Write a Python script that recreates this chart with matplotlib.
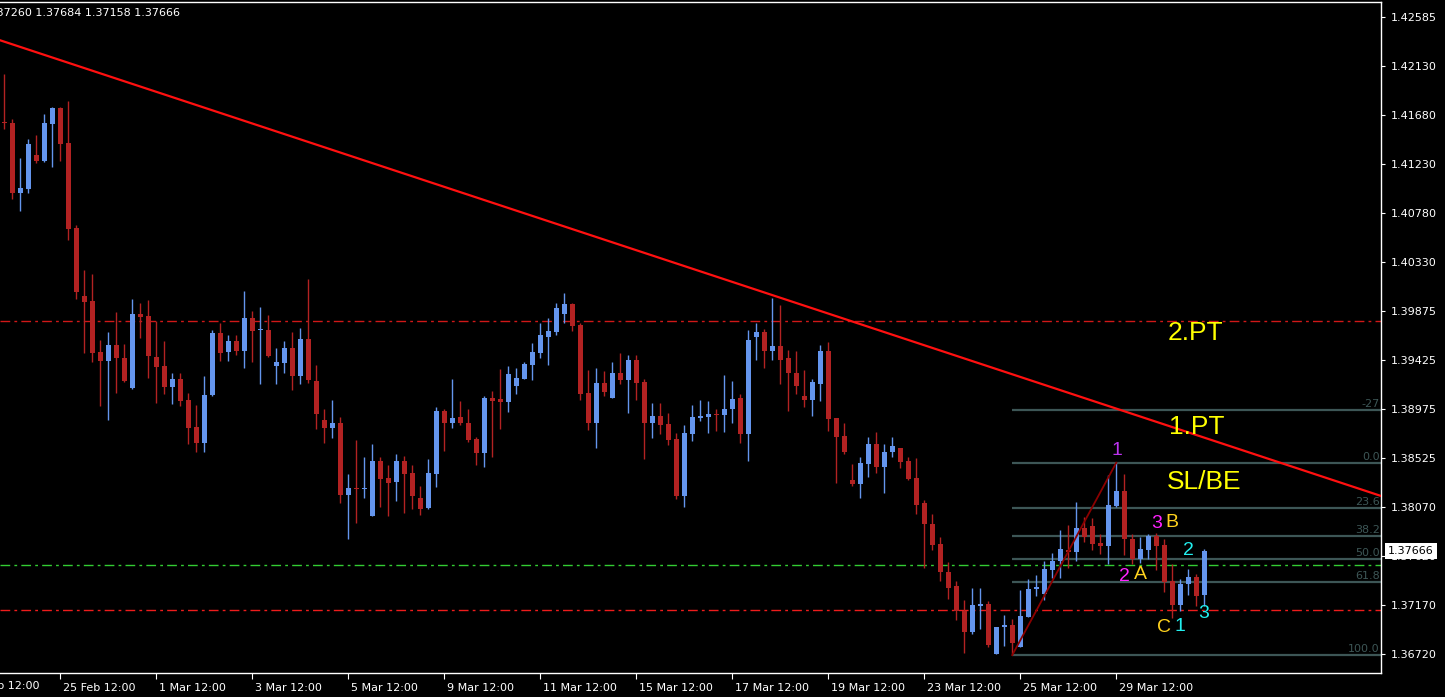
import matplotlib
matplotlib.use('Agg')
import matplotlib.pyplot as plt
import matplotlib.transforms as mtransforms

# H4 candles, index 0 = first visible bar
opens = [1.4162, 1.4161, 1.4096, 1.4100, 1.4131, 1.4126, 1.4160, 1.4174, 1.4142, 1.4064,
         1.4001, 1.3997, 1.3950, 1.3942, 1.3956, 1.3944, 1.3917, 1.3985, 1.3983, 1.3945,
         1.3937, 1.3918, 1.3925, 1.3906, 1.3881, 1.3866, 1.3910, 1.3967, 1.3950, 1.3960,
         1.3951, 1.3981, 1.3970, 1.3970, 1.3937, 1.3940, 1.3954, 1.3928, 1.3962, 1.3923,
         1.3887, 1.3880, 1.3885, 1.3818, 1.3825, 1.3824, 1.3799, 1.3850, 1.3834, 1.3830,
         1.3850, 1.3839, 1.3816, 1.3806, 1.3838, 1.3896, 1.3885, 1.3890, 1.3885, 1.3870,
         1.3857, 1.3908, 1.3907, 1.3904, 1.3919, 1.3925, 1.3938, 1.3949, 1.3964, 1.3968,
         1.3985, 1.3994, 1.3975, 1.3912, 1.3885, 1.3921, 1.3908, 1.3931, 1.3924, 1.3943,
         1.3922, 1.3885, 1.3891, 1.3884, 1.3870, 1.3817, 1.3874, 1.3889, 1.3890, 1.3893,
         1.3892, 1.3897, 1.3908, 1.3874, 1.3964, 1.3968, 1.3951, 1.3955, 1.3944, 1.3931,
         1.3909, 1.3906, 1.3920, 1.3951, 1.3889, 1.3873, 1.3832, 1.3828, 1.3847, 1.3865,
         1.3844, 1.3858, 1.3862, 1.3850, 1.3834, 1.3811, 1.3792, 1.3773, 1.3747, 1.3735,
         1.3712, 1.3692, 1.3716, 1.3718, 1.3672, 1.3697, 1.3699, 1.3678, 1.3706, 1.3732,
         1.3727, 1.3749, 1.3758, 1.3768, 1.3766, 1.3788, 1.3790, 1.3774, 1.3771, 1.3808,
         1.3822, 1.3778, 1.3759, 1.3768, 1.3781, 1.3772, 1.3739, 1.3717, 1.3736, 1.3743,
         1.37260]
highs = [1.4206, 1.4164, 1.4128, 1.4146, 1.4150, 1.4169, 1.4175, 1.4175, 1.4181, 1.4067,
         1.4025, 1.4022, 1.3961, 1.3968, 1.3987, 1.3957, 1.3999, 1.3995, 1.3998, 1.3978,
         1.3960, 1.3931, 1.3931, 1.3912, 1.3901, 1.3928, 1.3970, 1.3977, 1.3966, 1.3966,
         1.4006, 1.3988, 1.3991, 1.3984, 1.3954, 1.3960, 1.3968, 1.3972, 1.4017, 1.3938,
         1.3897, 1.3906, 1.3890, 1.3838, 1.3869, 1.3853, 1.3865, 1.3853, 1.3846, 1.3856,
         1.3854, 1.3846, 1.3827, 1.3851, 1.3899, 1.3897, 1.3925, 1.3905, 1.3897, 1.3872,
         1.3909, 1.3914, 1.3934, 1.3937, 1.3935, 1.3941, 1.3958, 1.3977, 1.3981, 1.3995,
         1.4004, 1.3995, 1.3977, 1.3933, 1.3935, 1.3932, 1.3941, 1.3949, 1.3947, 1.3947,
         1.3925, 1.3903, 1.3903, 1.3894, 1.3875, 1.3883, 1.3901, 1.3906, 1.3905, 1.3897,
         1.3929, 1.3923, 1.3911, 1.3970, 1.3977, 1.3971, 1.4000, 1.3993, 1.3952, 1.3951,
         1.3933, 1.3925, 1.3956, 1.3959, 1.3889, 1.3885, 1.3847, 1.3853, 1.3872, 1.3876,
         1.3865, 1.3872, 1.3862, 1.3853, 1.3852, 1.3814, 1.3801, 1.3780, 1.3757, 1.3739,
         1.3722, 1.3733, 1.3733, 1.3721, 1.3697, 1.3708, 1.3704, 1.3731, 1.3741, 1.3745,
         1.3758, 1.3765, 1.3786, 1.3791, 1.3812, 1.3798, 1.3797, 1.3782, 1.3837, 1.3848,
         1.3838, 1.3782, 1.3780, 1.3782, 1.3783, 1.3778, 1.3755, 1.3741, 1.3750, 1.3746,
         1.37684]
lows = [1.4155, 1.4091, 1.4080, 1.4096, 1.4124, 1.4125, 1.4120, 1.4126, 1.4053, 1.3999,
        1.3949, 1.3941, 1.3900, 1.3887, 1.3912, 1.3922, 1.3916, 1.3963, 1.3926, 1.3903,
        1.3911, 1.3902, 1.3900, 1.3865, 1.3858, 1.3858, 1.3909, 1.3942, 1.3942, 1.3947,
        1.3935, 1.3941, 1.3920, 1.3945, 1.3920, 1.3931, 1.3915, 1.3920, 1.3921, 1.3879,
        1.3866, 1.3871, 1.3811, 1.3778, 1.3793, 1.3816, 1.3799, 1.3807, 1.3799, 1.3813,
        1.3802, 1.3805, 1.3800, 1.3805, 1.3826, 1.3859, 1.3880, 1.3883, 1.3867, 1.3846,
        1.3844, 1.3853, 1.3879, 1.3895, 1.3911, 1.3925, 1.3924, 1.3944, 1.3938, 1.3966,
        1.3977, 1.3969, 1.3906, 1.3878, 1.3862, 1.3909, 1.3908, 1.3920, 1.3894, 1.3906,
        1.3851, 1.3871, 1.3874, 1.3864, 1.3815, 1.3807, 1.3868, 1.3886, 1.3875, 1.3877,
        1.3876, 1.3885, 1.3866, 1.3850, 1.3943, 1.3935, 1.3943, 1.3920, 1.3896, 1.3911,
        1.3899, 1.3891, 1.3905, 1.3877, 1.3829, 1.3856, 1.3827, 1.3816, 1.3835, 1.3839,
        1.3820, 1.3853, 1.3843, 1.3832, 1.3801, 1.3751, 1.3768, 1.3739, 1.3723, 1.3703,
        1.3673, 1.3690, 1.3695, 1.3678, 1.3672, 1.3679, 1.3671, 1.3678, 1.3706, 1.3725,
        1.3722, 1.3742, 1.3742, 1.3751, 1.3758, 1.3775, 1.3768, 1.3764, 1.3755, 1.3807,
        1.3763, 1.3755, 1.3756, 1.3759, 1.3749, 1.3729, 1.3705, 1.3712, 1.3726, 1.3716,
        1.37158]
closes = [1.4161, 1.4096, 1.4101, 1.4141, 1.4126, 1.4161, 1.4174, 1.4141, 1.4063, 1.4005,
          1.3996, 1.3949, 1.3942, 1.3956, 1.3944, 1.3923, 1.3985, 1.3982, 1.3946, 1.3936,
          1.3918, 1.3925, 1.3905, 1.3880, 1.3866, 1.3910, 1.3967, 1.3949, 1.3960, 1.3951,
          1.3981, 1.3969, 1.3971, 1.3946, 1.3941, 1.3954, 1.3928, 1.3962, 1.3924, 1.3893,
          1.3880, 1.3885, 1.3818, 1.3825, 1.3824, 1.3825, 1.3850, 1.3833, 1.3829, 1.3850,
          1.3838, 1.3817, 1.3805, 1.3839, 1.3896, 1.3885, 1.3889, 1.3885, 1.3869, 1.3857,
          1.3908, 1.3905, 1.3904, 1.3930, 1.3926, 1.3939, 1.3950, 1.3966, 1.3969, 1.3990,
          1.3994, 1.3974, 1.3911, 1.3885, 1.3921, 1.3913, 1.3931, 1.3924, 1.3943, 1.3921,
          1.3885, 1.3891, 1.3883, 1.3869, 1.3817, 1.3875, 1.3890, 1.3891, 1.3893, 1.3892,
          1.3897, 1.3907, 1.3874, 1.3961, 1.3968, 1.3951, 1.3955, 1.3943, 1.3931, 1.3919,
          1.3906, 1.3922, 1.3951, 1.3888, 1.3872, 1.3858, 1.3828, 1.3848, 1.3865, 1.3844,
          1.3858, 1.3863, 1.3849, 1.3833, 1.3809, 1.3792, 1.3772, 1.3747, 1.3733, 1.3712,
          1.3692, 1.3717, 1.3718, 1.3680, 1.3697, 1.3699, 1.3682, 1.3707, 1.3732, 1.3734,
          1.3750, 1.3758, 1.3769, 1.3766, 1.3788, 1.3780, 1.3773, 1.3771, 1.3809, 1.3822,
          1.3778, 1.3759, 1.3769, 1.3781, 1.3771, 1.3738, 1.3717, 1.3736, 1.3743, 1.3725,
          1.37666]

yticks = [1.42585, 1.42130, 1.41680, 1.41230, 1.40780, 1.40330, 1.39875, 1.39425,
          1.38975, 1.38525, 1.38070, 1.37620, 1.37170, 1.36720]
xtick_pos = [7, 19, 31, 43, 55, 67, 79, 91, 103, 115, 127, 139]
xtick_labels = ['25 Feb 12:00', '1 Mar 12:00', '3 Mar 12:00', '5 Mar 12:00', '9 Mar 12:00',
                '11 Mar 12:00', '15 Mar 12:00', '17 Mar 12:00', '19 Mar 12:00',
                '23 Mar 12:00', '25 Mar 12:00', '29 Mar 12:00']

# drawn objects
trend_pts = [(0, 1.42355), (160, 1.38468)]
fib_start, fib_high, fib_low = 126, 1.3848, 1.3671
fib_levels = [-27.2, 0.0, 23.6, 38.2, 50.0, 61.8, 100.0]
fib_names = ['-27', '0.0', '23.6', '38.2', '50.0', '61.8', '100.0']
red_level_hi = 1.3978
red_level_lo = 1.37122
green_level = 1.37539
last_price = 1.37666

big_labels = [('2.PT', 148.84, 1.39674), ('1.PT', 149.05, 1.38812), ('SL/BE', 149.96, 1.38306)]
wave_labels = [('1', 139.05, 1.38590, '#bb33ee'), ('2', 139.96, 1.37429, '#ff22ff'),
               ('3', 144.05, 1.37923, '#ff22ff'), ('A', 141.96, 1.37454, '#ffd21e'),
               ('B', 146.0, 1.37926, '#ffd21e'), ('C', 144.96, 1.36968, '#ffd21e'),
               ('1', 146.96, 1.36971, '#22eeee'), ('2', 148.0, 1.37668, '#22eeee'),
               ('3', 149.96, 1.37088, '#22eeee')]

bull = '#6495ED'
bear = '#B22222'

fig = plt.figure(figsize=(14.45, 6.97), dpi=100, facecolor='black')
ax = fig.add_axes([0, 24 / 697, 1381 / 1445, 671 / 697])
ax.set_facecolor('black')

n = len(opens)
xs = list(range(n))
cols = [bull if c >= o else bear for o, c in zip(opens, closes)]
bottoms = [min(o, c) for o, c in zip(opens, closes)]
heights = [max(abs(c - o), 0.0001) for o, c in zip(opens, closes)]
ax.vlines(xs, lows, highs, colors=cols, linewidth=1, zorder=3)
ax.bar(xs, heights, bottom=bottoms, width=0.62, color=cols, linewidth=0, zorder=4)

# horizontal levels
ax.axhline(red_level_hi, color='#d01818', lw=1, ls=(0, (7, 3, 2, 3)), zorder=2)
ax.axhline(red_level_lo, color='#ee1c1c', lw=1, ls=(0, (7, 3, 2, 3)), zorder=2)
ax.axhline(green_level, color='#33cc33', lw=1, ls=(0, (7, 3, 2, 3)), zorder=2)

# trend line
ax.axline(trend_pts[0], trend_pts[1], color='#ff1010', lw=1.6, zorder=5)

# fibonacci
fib_col = '#3d5656'
rng = fib_high - fib_low
for lev, name in zip(fib_levels, fib_names):
    p = fib_high - lev / 100 * rng
    ax.plot([fib_start, 172.2], [p, p], color=fib_col, lw=1.6, zorder=2, solid_capstyle='butt')
    ax.text(171.95, p + 0.0001, name, color=fib_col, fontsize=8, ha='right', va='bottom', zorder=2)
ax.plot([fib_start, 139], [fib_low, fib_high], color='#8b0000', lw=1.3, zorder=6)

for txt, x, y in big_labels:
    ax.text(x, y, txt, color='#ffff00', fontsize=19, family='Liberation Sans',
            ha='center', va='center', zorder=7)
for txt, x, y, col in wave_labels:
    ax.text(x, y, txt, color=col, fontsize=14, family='Liberation Sans',
            ha='center', va='center', zorder=7)

ax.set_xlim(-0.5375, 172.09)
ax.set_ylim(1.36545, 1.42720)

for side in ['top', 'right', 'bottom']:
    ax.spines[side].set_color('white')
    ax.spines[side].set_linewidth(1)
ax.spines['left'].set_visible(False)

ax.yaxis.tick_right()
ax.set_yticks(yticks)
ax.set_yticklabels(['%.5f' % v for v in yticks])
ax.tick_params(axis='y', colors='white', length=3, pad=4, labelsize=8, direction='out')
ax.set_xticks(xtick_pos)
ax.set_xticklabels(xtick_labels)
ax.tick_params(axis='x', colors='white', length=4, pad=3, labelsize=8, direction='out')
offset = mtransforms.ScaledTranslation(2 / 72, 0, fig.dpi_scale_trans)
for lbl in ax.get_xticklabels():
    lbl.set_ha('left')
    lbl.set_transform(lbl.get_transform() + offset)
# partly hidden first date label
ax.text(-5, -0.012, '23 Feb 12:00', transform=ax.get_xaxis_transform() + offset,
        color='white', fontsize=8, ha='left', va='top', clip_on=False)

# current price box
ax.text(1.00507, last_price, '%.5f' % last_price, transform=ax.get_yaxis_transform(),
        color='black', fontsize=8, ha='left', va='center', zorder=10, clip_on=False,
        bbox=dict(boxstyle='square,pad=0.25', fc='white', ec='none'))

fig.text(-14 / 1445, 1 - 13 / 697, '1.37260 1.37684 1.37158 1.37666', color='white',
         fontsize=8, ha='left', va='center')

fig.savefig('out.png', dpi=100, facecolor='black')
